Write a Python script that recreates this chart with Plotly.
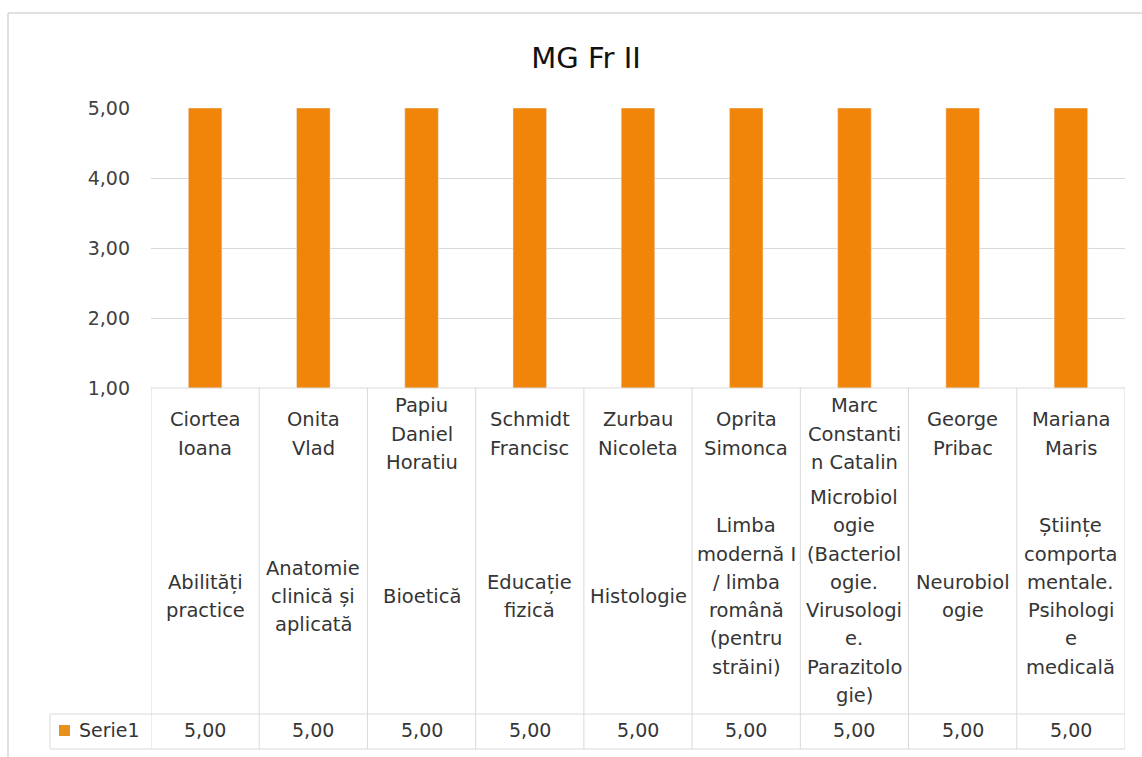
import plotly.graph_objects as go

# ---- data ----
title = "MG Fr II"
series_name = "Serie1"
teachers = ["Ciortea<br>Ioana", "Onita<br>Vlad", "Papiu<br>Daniel<br>Horatiu",
            "Schmidt<br>Francisc", "Zurbau<br>Nicoleta", "Oprita<br>Simonca",
            "Marc<br>Constanti<br>n Catalin", "George<br>Pribac", "Mariana<br>Maris"]
subjects = ["Abilități<br>practice", "Anatomie<br>clinică și<br>aplicată", "Bioetică",
            "Educație<br>fizică", "Histologie",
            "Limba<br>modernă I<br>/ limba<br>română<br>(pentru<br>străini)",
            "Microbiol<br>ogie<br>(Bacteriol<br>ogie.<br>Virusologi<br>e.<br>Parazitolo<br>gie)",
            "Neurobiol<br>ogie",
            "Științe<br>comporta<br>mentale.<br>Psihologi<br>e<br>medicală"]
values = [5.00, 5.00, 5.00, 5.00, 5.00, 5.00, 5.00, 5.00, 5.00]
y_ticks = [1, 2, 3, 4, 5]

# ---- layout geometry (pixels) ----
W, H = 1142, 757
L, R = 151, 1125          # plot area x
T, B = 108, 388           # plot area y
PW, PH = R - L, B - T

def py(px):               # pixel y -> paper y
    return (B - px) / PH

def pxx(px):              # pixel x -> paper x
    return (px - L) / PW

FONT = "DejaVu Sans"
TXT = "#353535"
GRID = "#d9d9d9"
ORANGE = "#F0850A"

cats = [t.replace("<br>", " ") + " | " + s.replace("<br>", " ") for t, s in zip(teachers, subjects)]
n = len(cats)

fig = go.Figure()
fig.add_trace(go.Bar(x=cats, y=values, name=series_name, marker_color=ORANGE,
                     width=0.31, showlegend=False))

annotations = []
shapes = []

LINE = 28.3
NAME_C = 434
SUBJ_C = 596.5
for i in range(n):
    for block, center in ((teachers[i], NAME_C), (subjects[i], SUBJ_C)):
        lines = block.split("<br>")
        k = len(lines)
        for j, ln in enumerate(lines):
            ypx = center + (j - (k - 1) / 2) * LINE
            annotations.append(dict(x=i, y=py(ypx), xref="x", yref="paper", text=ln,
                                    showarrow=False, xanchor="center", yanchor="middle",
                                    font=dict(family=FONT, size=19.5, color=TXT)))
    # value row
    annotations.append(dict(x=i, y=py(730), xref="x", yref="paper",
                            text=f"{values[i]:.2f}".replace(".", ","),
                            showarrow=False, xanchor="center", yanchor="middle",
                            font=dict(family=FONT, size=19, color=TXT)))

# legend cell text
annotations.append(dict(x=pxx(77), y=py(730), xref="paper", yref="paper", text=series_name,
                        showarrow=False, xanchor="left", yanchor="middle",
                        font=dict(family=FONT, size=19, color=TXT)))
shapes.append(dict(type="rect", xref="paper", yref="paper", x0=pxx(59), x1=pxx(70),
                   y0=py(736), y1=py(725), fillcolor="#E8921E", line=dict(width=0)))

# table lines
ROW_TOP = 714
TBL_BOT = 749
for k in range(n + 1):
    shapes.append(dict(type="line", xref="x", yref="paper", x0=k - 0.5, x1=k - 0.5,
                       y0=0, y1=py(TBL_BOT), line=dict(color=GRID, width=1)))
shapes.append(dict(type="line", xref="paper", yref="paper", x0=pxx(50), x1=1,
                   y0=py(ROW_TOP), y1=py(ROW_TOP), line=dict(color=GRID, width=1)))
shapes.append(dict(type="line", xref="paper", yref="paper", x0=pxx(50), x1=1,
                   y0=py(TBL_BOT), y1=py(TBL_BOT), line=dict(color=GRID, width=1)))
shapes.append(dict(type="line", xref="paper", yref="paper", x0=pxx(50), x1=pxx(50),
                   y0=py(ROW_TOP), y1=py(TBL_BOT), line=dict(color=GRID, width=1)))
shapes.append(dict(type="line", xref="paper", yref="paper", x0=0, x1=1,
                   y0=0, y1=0, line=dict(color=GRID, width=1)))
# outer chart border
shapes.append(dict(type="line", xref="paper", yref="paper", x0=pxx(8), x1=pxx(W + 5),
                   y0=py(13), y1=py(13), line=dict(color="#d6d6d6", width=1.5)))
shapes.append(dict(type="line", xref="paper", yref="paper", x0=pxx(8), x1=pxx(8),
                   y0=py(13), y1=py(H + 5), line=dict(color="#d6d6d6", width=1.5)))

fig.update_layout(
    width=W, height=H,
    margin=dict(l=L, r=W - R, t=T, b=H - B, pad=0),
    paper_bgcolor="white", plot_bgcolor="white",
    separators=",.",
    title=dict(text=title, x=586 / W, xref="container", xanchor="center",
               y=1 - 58 / H, yref="container", yanchor="middle",
               font=dict(family=FONT, size=29, color="#111111")),
    xaxis=dict(range=[-0.5, n - 0.5], showticklabels=False, showgrid=False,
               zeroline=False, showline=False, ticks=""),
    yaxis=dict(range=[1, 5], tickvals=y_ticks, tickformat=".2f", showgrid=True,
               gridcolor=GRID, gridwidth=1, zeroline=False, showline=False,
               ticks="", ticklabelstandoff=20,
               tickfont=dict(family=FONT, size=19, color="#404040")),
    annotations=annotations,
    shapes=shapes,
    bargap=0.69,
)

fig.write_html("out.html", config={"displayModeBar": False},
               post_script="document.body.style.margin='0';document.body.style.overflow='hidden';")
